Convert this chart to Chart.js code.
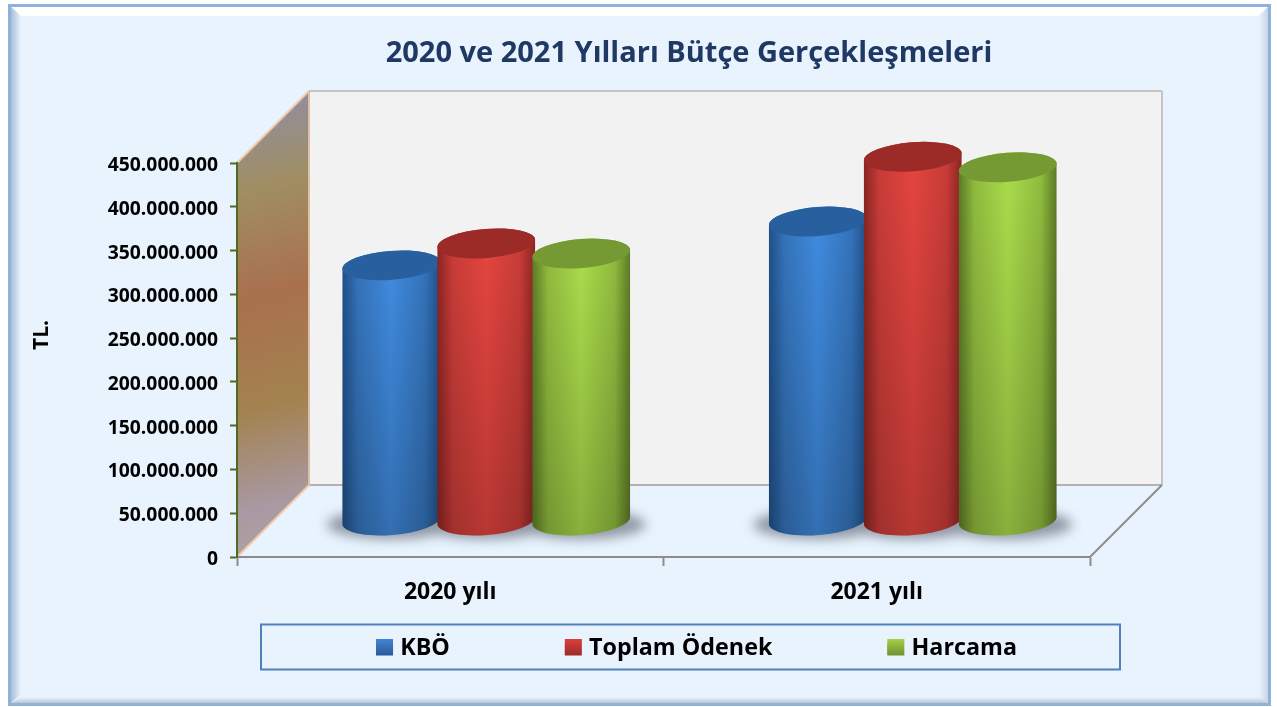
<!DOCTYPE html>
<html lang="tr">
<head>
<meta charset="utf-8">
<title>2020 ve 2021 Yılları Bütçe Gerçekleşmeleri</title>
<script src="https://cdn.jsdelivr.net/npm/chart.js@4"></script>
<style>
html,body{margin:0;padding:0;background:#fff;overflow:hidden}
canvas{display:block}
</style>
</head>
<body>
<canvas id="c" width="1277" height="707"></canvas>
<script>
const titleText = '2020 ve 2021 Yılları Bütçe Gerçekleşmeleri';
const yAxisTitle = 'TL.';
const categories = ['2020 yılı', '2021 yılı'];
const kboValues = [292000000, 342000000];
const toplamValues = [317000000, 416000000];
const harcamaValues = [305500000, 404000000];
const seriesNames = ['KBÖ', 'Toplam Ödenek', 'Harcama'];
const axisMax = 450000000;
const axisStep = 50000000;

const FONT = '"Open Sans", sans-serif';
const DEPTH = 72, MID = 36, RY = 14.5, TILT = -4.5 * Math.PI / 180;
const palette = [
  {edge:'#1f4f88', mid:'#3473ba', light:'#408bdf', cap:'#28609f', sw:['#4285d0','#28599a']},
  {edge:'#8a2522', mid:'#c93c38', light:'#e5453f', cap:'#9c2b27', sw:['#d8403c','#9a2a27']},
  {edge:'#5c7a26', mid:'#90bb3e', light:'#abdc4c', cap:'#769a33', sw:['#a4d048','#6f9030']}
];

const scene = {
  id: 'scene',
  afterLayout(chart) {
    chart.titleBlock.left = 0; chart.titleBlock.right = 1378;
    const lg = chart.legend;
    lg.maxWidth = 1277;
    lg.fit();
    const h = lg.options.labels.padding;
    lg.left = 0; lg.right = 1393;
    lg.top = 637 - h; lg.bottom = 670;
    lg.adjustHitBoxes();
  },
  beforeDraw(chart) {
    const c = chart.ctx, a = chart.chartArea;
    const poly = (pts, fill) => {
      c.beginPath(); pts.forEach((p, i) => i ? c.lineTo(p[0], p[1]) : c.moveTo(p[0], p[1]));
      c.closePath(); c.fillStyle = fill; c.fill();
    };
    const line = (x1, y1, x2, y2, col, w) => {
      c.beginPath(); c.moveTo(x1, y1); c.lineTo(x2, y2); c.strokeStyle = col; c.lineWidth = w; c.stroke();
    };
    c.save();
    // panel
    c.fillStyle = '#e8f3fe'; c.fillRect(10, 6, 1259, 698);
    let g = c.createLinearGradient(11, 0, 21, 0); g.addColorStop(0, '#a9bdd6'); g.addColorStop(1, '#e8f3fe');
    poly([[10,6],[21,16],[21,694],[10,704]], g);
    g = c.createLinearGradient(1259, 0, 1268, 0); g.addColorStop(0, '#e8f3fe'); g.addColorStop(1, '#c6d4e5');
    poly([[1269,6],[1259,16],[1259,697],[1269,704]], g);
    g = c.createLinearGradient(0, 697, 0, 704); g.addColorStop(0, '#e8f3fe'); g.addColorStop(1, '#b4bfcc');
    poly([[10,704],[21,697],[1259,697],[1269,704]], g);
    poly([[11,6],[1268,6],[1258,16],[21,16]], '#ffffff');
    c.strokeStyle = '#8fb1dc'; c.lineWidth = 3; c.strokeRect(9.5, 5.5, 1260, 699);
    // back wall
    const L = a.left, R = a.right, T = a.top, B = a.bottom;
    c.fillStyle = '#f2f2f2'; c.fillRect(L + DEPTH, T - DEPTH, R - L, B - T);
    line(L + DEPTH, T - DEPTH, R + DEPTH, T - DEPTH, '#c4c4c4', 2);
    line(R + DEPTH, T - DEPTH, R + DEPTH, B - DEPTH, '#c4c4c4', 2);
    line(L + DEPTH, B - DEPTH, R + DEPTH, B - DEPTH, '#b2b2b2', 2);
    // side wall
    g = c.createLinearGradient(L, T - 50, L + DEPTH + 30, B);
    [[0,'#928e9a'],[.17,'#a08e62'],[.4,'#a9704e'],[.64,'#a3824f'],[.86,'#a899a5'],[1,'#b3a598']].forEach(s => g.addColorStop(s[0], s[1]));
    poly([[L,T],[L+DEPTH,T-DEPTH],[L+DEPTH,B-DEPTH],[L,B]], g);
    line(L, T, L + DEPTH, T - DEPTH, '#f2c8a8', 2);
    line(L + DEPTH, T - DEPTH, L + DEPTH, B - DEPTH, '#dcc0aa', 2);
    line(L, B, L + DEPTH, B - DEPTH, '#f2c8a8', 2);
    // floor right edge
    line(R, B, R + DEPTH, B - DEPTH, '#8c8c8c', 2);
    // legend frame
    c.strokeStyle = '#4f81bd'; c.lineWidth = 2; c.strokeRect(261, 624.5, 859, 45);
    c.restore();
    // nudge the value labels onto their ticks
    chart.scales.y.getLabelItems().forEach(it => {
      if (!it.nudged) { it.options.translation[1] += 2.5; it.nudged = true; }
    });
  },
  beforeDatasetDraw() { return false; },
  afterDatasetsDraw(chart) {
    const c = chart.ctx;
    const bars = [];
    chart.data.datasets.forEach((d, i) => chart.getDatasetMeta(i).data.forEach(el => bars.push({el, i})));
    // floor shadow
    c.save();
    c.filter = 'blur(6px)';
    c.fillStyle = 'rgba(120,128,140,0.8)';
    c.beginPath();
    bars.forEach(({el}) => {
      const cx = el.x + MID, by = el.base - MID + 4, rx = el.width / 2 + 17;
      c.moveTo(cx + rx, by);
      c.ellipse(cx, by, rx, RY, 0, 0, Math.PI * 2);
    });
    c.fill();
    c.restore();
    // cylinders, in series order so that later ones overlap earlier ones
    bars.forEach(({el, i}) => {
      const p = palette[i];
      const cx = el.x + MID, rx = el.width / 2 + 1.5;
      const ty = el.y - MID, by = el.base - MID;
      c.save();
      c.beginPath();
      c.ellipse(cx, by, rx, RY, TILT, 0, Math.PI, false);
      c.ellipse(cx, ty, rx, RY, TILT, Math.PI, 0, false);
      c.closePath();
      let g = c.createLinearGradient(cx - rx, 0, cx + rx, 0);
      g.addColorStop(0, p.edge); g.addColorStop(.16, p.mid); g.addColorStop(.5, p.light);
      g.addColorStop(.84, p.mid); g.addColorStop(1, p.edge);
      c.fillStyle = g; c.fill();
      g = c.createLinearGradient(0, ty, 0, by + RY);
      g.addColorStop(0, 'rgba(0,0,0,0)'); g.addColorStop(1, 'rgba(0,0,0,0.2)');
      c.fillStyle = g; c.fill();
      c.beginPath();
      c.ellipse(cx, ty, rx, RY, TILT, 0, Math.PI * 2);
      c.fillStyle = p.cap; c.fill();
      c.restore();
    });
  },
  afterDraw(chart) {
    const c = chart.ctx;
    c.save();
    // legend swatches: wider than the box slot so the text sits close to them
    const lg = chart.legend;
    lg.legendHitBoxes.forEach((hit, i) => {
      c.fillStyle = lg.legendItems[i].fillStyle;
      c.fillRect(hit.left, 639, 17, 16.5);
    });
    c.translate(42, 335); c.rotate(-Math.PI / 2);
    c.font = 'bold 21px ' + FONT; c.fillStyle = '#000';
    c.textAlign = 'center'; c.textBaseline = 'middle';
    c.fillText(yAxisTitle, 0, 0);
    c.restore();
  }
};

new Chart(document.getElementById('c'), {
  type: 'bar',
  plugins: [scene],
  data: {
    labels: categories,
    datasets: [kboValues, toplamValues, harcamaValues].map((v, i) => ({
      label: seriesNames[i], data: v, backgroundColor: palette[i].light,
      barPercentage: 1, categoryPercentage: 0.668
    }))
  },
  options: {
    responsive: false, animation: false,
    layout: {autoPadding: false, padding: {left: 30, right: 187, top: 0, bottom: 0}},
    plugins: {
      tooltip: {enabled: false},
      title: {display: true, text: titleText, color: '#1f3864',
        font: {family: FONT, size: 29, weight: 'bold'}, padding: {top: 36.5, bottom: 91.7}},
      legend: {position: 'bottom', maxHeight: 50, onClick: null,
        labels: {
          boxWidth: 12.5, boxHeight: 12, padding: 115, color: '#000',
          font: {family: FONT, size: 23.3, weight: 'bold'},
          generateLabels(chart) {
            return chart.data.datasets.map((d, i) => {
              const g = chart.ctx.createLinearGradient(0, 639, 0, 656);
              g.addColorStop(0, palette[i].sw[0]); g.addColorStop(1, palette[i].sw[1]);
              return {text: d.label, fillStyle: g, strokeStyle: 'transparent', lineWidth: 0, datasetIndex: i};
            });
          }
        }
      }
    },
    scales: {
      x: {
        afterFit(s) { s.height = 100; },
        border: {color: '#8c8c8c', width: 2},
        grid: {drawOnChartArea: false, color: '#8c8c8c', tickLength: 9, tickWidth: 2},
        ticks: {color: '#000', padding: 13, maxRotation: 0, font: {family: FONT, size: 23, weight: 'bold'}}
      },
      y: {
        min: 0, max: axisMax,
        afterFit(s) { s.width = 207; },
        border: {color: '#4f6b22', width: 2},
        grid: {drawOnChartArea: false, color: '#4f6b22', tickLength: 7, tickWidth: 2},
        ticks: {stepSize: axisStep, color: '#000', padding: 12, autoSkip: false,
          font: {family: FONT, size: 19.3, weight: 'bold'},
          callback: v => String(v).replace(/\B(?=(\d{3})+$)/g, '.')}
      }
    }
  }
});
</script>
</body>
</html>
